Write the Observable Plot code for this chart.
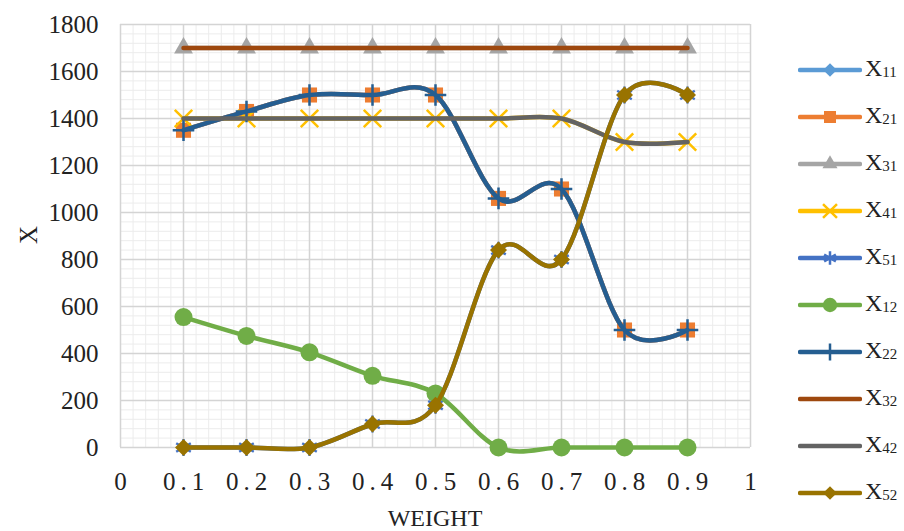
<!DOCTYPE html>
<html><head><meta charset="utf-8">
<script src="https://cdn.jsdelivr.net/npm/d3@7"></script>
<script src="https://cdn.jsdelivr.net/npm/@observablehq/plot@0.6"></script>
<style>
body{margin:0;background:#fff;}
#wrap{position:relative;width:904px;height:531px;font-family:"Liberation Serif",serif;color:#222;overflow:hidden;}
#wrap svg.plot{position:absolute;left:0;top:0;}
#wrap svg text{font-family:"Liberation Serif",serif;}
[aria-label="x-axis tick label"] text{letter-spacing:5px;}
.ytitle{position:absolute;left:16px;top:222px;font-size:25px;transform:rotate(-90deg);transform-origin:center;width:26px;text-align:center;line-height:26px;}
.xtitle{position:absolute;left:335px;width:200px;text-align:center;top:505px;font-size:24px;line-height:26px;}
.item{position:absolute;left:798px;height:30px;display:flex;align-items:center;}
.item .lab{font-size:24px;margin-left:3px;line-height:24px;}
.item .lab sub{font-size:15px;vertical-align:-1px;}
</style></head><body><div id="wrap"></div>
<script>
const weights = [0.1, 0.2, 0.3, 0.4, 0.5, 0.6, 0.7, 0.8, 0.9];
const X11 = [1350, 1430, 1500, 1500, 1500, 1060, 1100, 500, 500];
const X21 = [1350, 1430, 1500, 1500, 1500, 1060, 1100, 500, 500];
const X31 = [1700, 1700, 1700, 1700, 1700, 1700, 1700, 1700, 1700];
const X41 = [1400, 1400, 1400, 1400, 1400, 1400, 1400, 1300, 1300];
const X51 = [0, 0, 0, 100, 180, 840, 800, 1500, 1500];
const X12 = [555, 475, 405, 305, 230, 0, 0, 0, 0];
const X22 = [1350, 1430, 1500, 1500, 1500, 1060, 1100, 500, 500];
const X32 = [1700, 1700, 1700, 1700, 1700, 1700, 1700, 1700, 1700];
const X42 = [1400, 1400, 1400, 1400, 1400, 1400, 1400, 1300, 1300];
const X52 = [0, 0, 0, 100, 180, 840, 800, 1500, 1500];

const seriesNames = ["X11", "X21", "X31", "X41", "X51", "X12", "X22", "X32", "X42", "X52"];
const seriesValues = [X11, X21, X31, X41, X51, X12, X22, X32, X42, X52];
const seriesColors = ["#5B9BD5", "#ED7D31", "#A5A5A5", "#FFC000", "#4472C4", "#70AD47", "#255E91", "#9E480E", "#636363", "#997300"];
const seriesSymbols = ["rhombus", "square", "triangle", "times", "asterisk", "circle", "plus", null, null, "rhombus"];
const seriesR = [5.6, 8.5, 7, 8, 8, 9, 7, 0, 0, 6.8];

const xTicks = [0, 0.1, 0.2, 0.3, 0.4, 0.5, 0.6, 0.7, 0.8, 0.9, 1];
const yTicks = [0, 200, 400, 600, 800, 1000, 1200, 1400, 1600, 1800];
const xMinor = d3.range(0, 51).map(i => i / 50);
const yMinor = d3.range(0, 46).map(i => i * 40);

// Excel-style diamond: a square turned 45°
const rhombus = {
  draw(ctx, size) {
    const h = Math.sqrt(size / 2);
    ctx.moveTo(0, -h); ctx.lineTo(h, 0); ctx.lineTo(0, h); ctx.lineTo(-h, 0); ctx.closePath();
  }
};
const strokeSymbols = new Set(["times", "asterisk", "plus"]);
const symObj = {rhombus, square: d3.symbolSquare, triangle: d3.symbolTriangle, times: d3.symbolTimes, asterisk: d3.symbolAsterisk, circle: d3.symbolCircle, plus: d3.symbolPlus};
const serif = "Liberation Serif";

const marks = [
  Plot.gridX(xMinor, {stroke: "#ececec", strokeOpacity: 1, strokeWidth: 1}),
  Plot.gridY(yMinor, {stroke: "#ececec", strokeOpacity: 1, strokeWidth: 1}),
  Plot.gridX(xTicks, {stroke: "#d4d4d4", strokeOpacity: 1, strokeWidth: 1.5}),
  Plot.gridY(yTicks, {stroke: "#d4d4d4", strokeOpacity: 1, strokeWidth: 1.5}),
  Plot.axisY(yTicks, {tickSize: 0, tickPadding: 22, tickFormat: d => String(d), label: null, fontSize: 25, fontFamily: serif}),
  Plot.axisX(xTicks, {tickSize: 0, tickPadding: 25, tickFormat: d => String(d), label: null, fontSize: 25, fontFamily: serif, dx: 2.5})
];

seriesNames.forEach((name, i) => {
  const data = weights.map((w, j) => ({w, v: seriesValues[i][j]}));
  marks.push(Plot.line(data, {x: "w", y: "v", stroke: seriesColors[i], strokeWidth: 4.5, curve: "cardinal", strokeLinecap: "round"}));
  const s = seriesSymbols[i];
  if (s) {
    const isStroke = strokeSymbols.has(s);
    marks.push(Plot.dot(data, {
      x: "w", y: "v", symbol: symObj[s], r: seriesR[i],
      fill: isStroke ? "none" : seriesColors[i],
      stroke: isStroke ? seriesColors[i] : "none",
      strokeWidth: isStroke ? 2.5 : 0
    }));
  }
});

const chart = Plot.plot({
  width: 904, height: 531,
  marginLeft: 120, marginRight: 154, marginTop: 24, marginBottom: 84,
  x: {domain: [0, 1]},
  y: {domain: [0, 1800]},
  style: {fontFamily: serif, fontSize: "25px", color: "#222", background: "transparent"},
  marks
});
chart.classList.add("plot");
const wrap = document.getElementById("wrap");
wrap.appendChild(chart);

const yt = document.createElement("div");
yt.className = "ytitle"; yt.textContent = "X";
wrap.appendChild(yt);
const xt = document.createElement("div");
xt.className = "xtitle"; xt.textContent = "WEIGHT";
wrap.appendChild(xt);

seriesNames.forEach((name, i) => {
  const item = document.createElement("div");
  item.className = "item";
  item.style.top = (70 + 47 * i - 15) + "px";
  const svg = d3.create("svg").attr("width", 64).attr("height", 30);
  svg.append("line").attr("x1", 2).attr("x2", 62).attr("y1", 15).attr("y2", 15)
    .attr("stroke", seriesColors[i]).attr("stroke-width", 4.5).attr("stroke-linecap", "round");
  const s = seriesSymbols[i];
  if (s) {
    const r = (s === "rhombus" ? 6.8 : seriesR[i]) * 0.8;
    const isStroke = strokeSymbols.has(s);
    svg.append("path").attr("transform", "translate(32,15)")
      .attr("d", d3.symbol(symObj[s], Math.PI * r * r)())
      .attr("fill", isStroke ? "none" : seriesColors[i])
      .attr("stroke", isStroke ? seriesColors[i] : "none")
      .attr("stroke-width", 2.5);
  }
  item.appendChild(svg.node());
  const lab = document.createElement("span");
  lab.className = "lab";
  lab.innerHTML = name[0] + "<sub>" + name.slice(1) + "</sub>";
  item.appendChild(lab);
  wrap.appendChild(item);
});
</script>
</body></html>
